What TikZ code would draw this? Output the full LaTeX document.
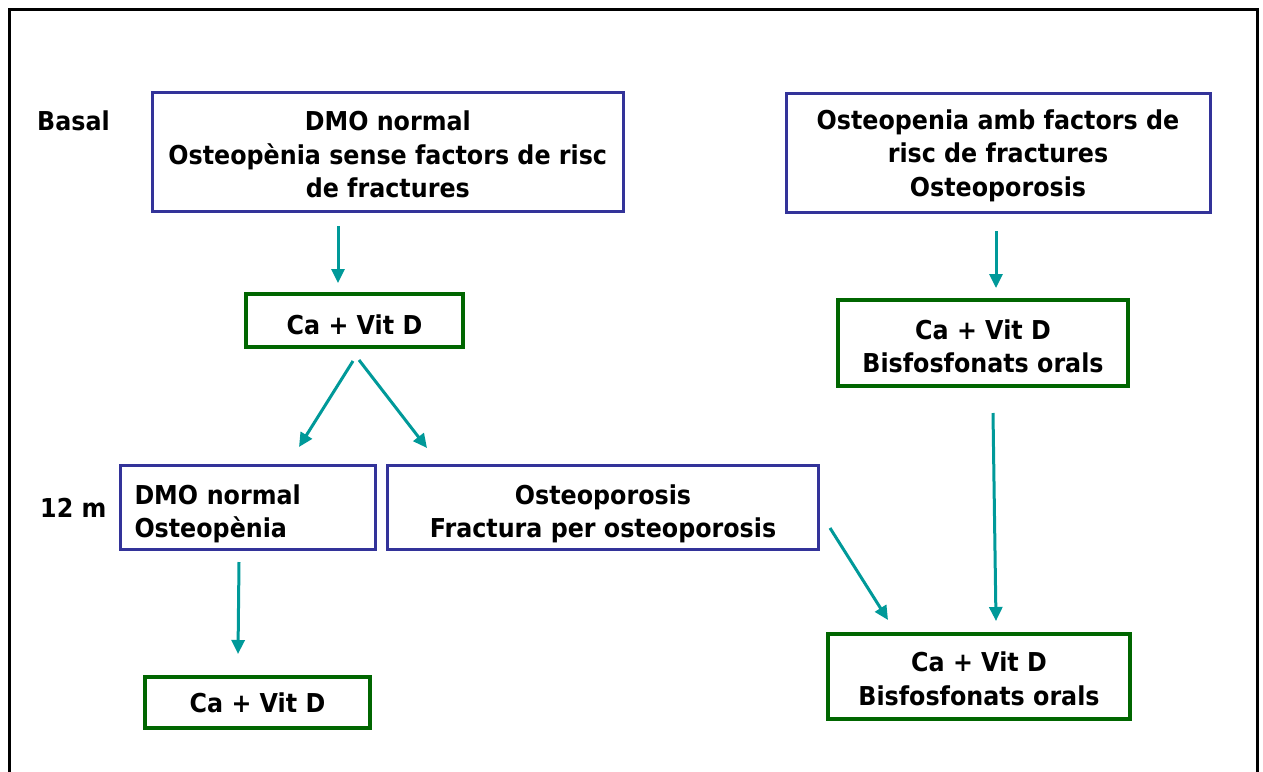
\documentclass[tikz,border=0pt]{standalone}
\usepackage{fontspec}
\setmainfont{DejaVu Sans}[FakeStretch=0.915]
\usetikzlibrary{arrows.meta}
\definecolor{boxblue}{RGB}{51,51,153}
\definecolor{boxgreen}{RGB}{0,102,0}
\definecolor{arrteal}{RGB}{0,153,153}
\newcommand\txtdown[1]{\rule{0pt}{\dimexpr 20pt+#1\relax}}
\tikzset{
  txt/.style={font=\bfseries\fontsize{26}{33.5}\selectfont, text=black},
  bluebox/.style={txt, draw=boxblue, line width=3pt, inner sep=0pt, align=center, fill=white},
  greenbox/.style={txt, draw=boxgreen, line width=4.5pt, inner sep=0pt, align=center, fill=white},
  flow/.style={draw=arrteal, line width=3pt, -{Triangle[length=14pt,width=13pt]}},
  lbl/.style={txt, anchor=west, inner sep=0pt}
}
\begin{document}
\begin{tikzpicture}[x=1pt,y=-1pt]
\useasboundingbox (0,0) rectangle (1263,771);
\draw[line width=3pt] (9,775) -- (9,9) -- (1257,9) -- (1257,775);

\node[lbl] (basal) at (37,121) {Basal};
\node[lbl] (twelve) at (40,508) {12 m};

\node[bluebox, minimum width=470.5pt, minimum height=119pt] (A) at (387.8,151.5)
  {\txtdown{6pt}DMO normal\\Osteopènia sense factors de risc\\de fractures};
\node[bluebox, minimum width=424pt, minimum height=119pt] (B) at (998,152.5)
  {\txtdown{6pt}Osteopenia amb factors de\\risc de fractures\\Osteoporosis};
\node[greenbox, minimum width=217pt, minimum height=53pt] (C) at (354.5,320.5)
  {\txtdown{8pt}Ca + Vit D};
\node[greenbox, minimum width=290pt, minimum height=86pt] (D) at (983,343)
  {\txtdown{6pt}Ca + Vit D\\Bisfosfonats orals};
\node[bluebox, minimum width=255pt, minimum height=84pt, text width=227pt, align=left] (E) at (248,507.5)
  {\txtdown{12pt}DMO normal\\Osteopènia};
\node[bluebox, minimum width=431pt, minimum height=84pt] (F) at (603,507.5)
  {\txtdown{12pt}Osteoporosis\\Fractura per osteoporosis};
\node[greenbox, minimum width=225pt, minimum height=51pt] (G) at (257.5,702.5)
  {Ca + Vit D};
\node[greenbox, minimum width=302pt, minimum height=85pt] (H) at (979,676.5)
  {\txtdown{4pt}Ca + Vit D\\Bisfosfonats orals};

\coordinate (a1s) at (338,226); \coordinate (a1e) at (338,283);
\coordinate (a2s) at (353,361); \coordinate (a2e) at (299,447);
\coordinate (a3s) at (359,360); \coordinate (a3e) at (427,448);
\coordinate (a4s) at (996,231); \coordinate (a4e) at (996,288);
\coordinate (a5s) at (993,413); \coordinate (a5e) at (996,621);
\coordinate (a6s) at (830,528); \coordinate (a6e) at (888,620);
\coordinate (a7s) at (239,562); \coordinate (a7e) at (238,654);

\draw[flow] (a1s) -- (a1e);
\draw[flow] (a2s) -- (a2e);
\draw[flow] (a3s) -- (a3e);
\draw[flow] (a4s) -- (a4e);
\draw[flow] (a5s) -- (a5e);
\draw[flow] (a6s) -- (a6e);
\draw[flow] (a7s) -- (a7e);
\end{tikzpicture}
\end{document}
